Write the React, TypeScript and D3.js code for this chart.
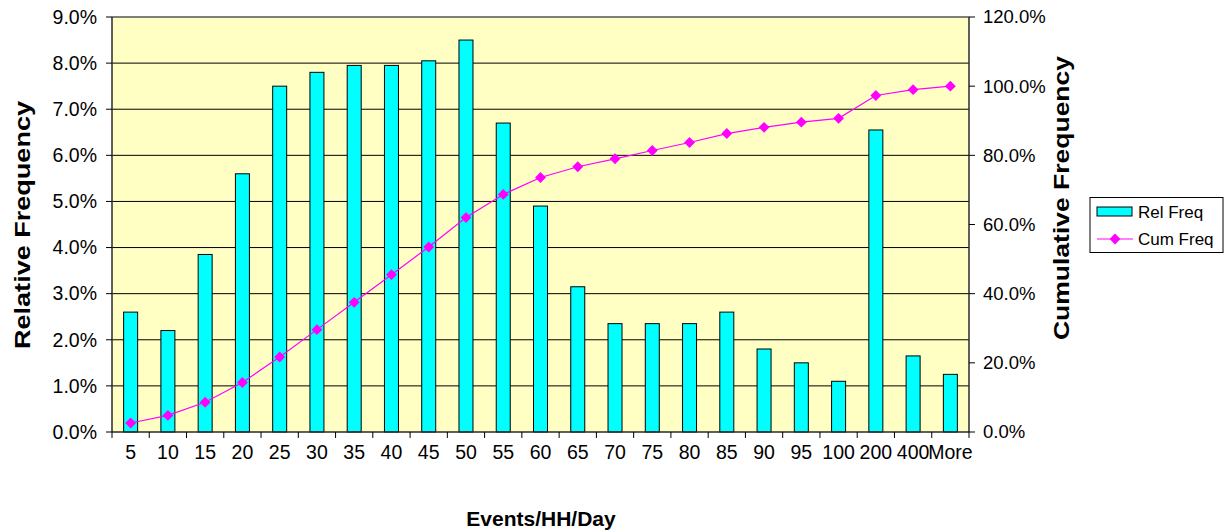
import React, { useEffect, useRef } from 'react';
import * as d3 from 'd3';

const categories = ['5', '10', '15', '20', '25', '30', '35', '40', '45', '50', '55', '60', '65', '70', '75', '80', '85', '90', '95', '100', '200', '400', 'More'];
const relFreq = [2.6, 2.2, 3.85, 5.6, 7.5, 7.8, 7.95, 7.95, 8.05, 8.5, 6.7, 4.9, 3.15, 2.35, 2.35, 2.35, 2.6, 1.8, 1.5, 1.1, 6.55, 1.65, 1.25];
const cumFreq = [2.6, 4.8, 8.6, 14.3, 21.7, 29.6, 37.5, 45.5, 53.5, 62.0, 68.7, 73.6, 76.7, 79.0, 81.4, 83.7, 86.3, 88.1, 89.6, 90.7, 97.3, 99.0, 100.0];
const leftTicks = [0, 1, 2, 3, 4, 5, 6, 7, 8, 9];
const rightTicks = [0, 20, 40, 60, 80, 100, 120];

const W = 1229;
const H = 531;
const plot = { left: 112, right: 969, top: 17, bottom: 432 };
const font = 'Liberation Sans, Arial, sans-serif';

const App: React.FC = () => {
  const svgRef = useRef<SVGSVGElement>(null);

  useEffect(() => {
    if (!svgRef.current) return;
    const svg = d3.select(svgRef.current);
    svg.selectAll('*').remove();

    const x = d3.scaleBand<string>().domain(categories).range([plot.left, plot.right]);
    const yL = d3.scaleLinear().domain([0, 9]).range([plot.bottom, plot.top]);
    const yR = d3.scaleLinear().domain([0, 120]).range([plot.bottom, plot.top]);
    const barW = 14;
    const cx = (i: number) => (x(categories[i]) as number) + x.bandwidth() / 2;

    // plot background
    svg.append('rect')
      .attr('x', plot.left).attr('y', plot.top)
      .attr('width', plot.right - plot.left).attr('height', plot.bottom - plot.top)
      .attr('fill', '#FFFFC4');

    // gridlines
    svg.append('g')
      .selectAll('line')
      .data(leftTicks.slice(1))
      .enter()
      .append('line')
      .attr('x1', plot.left).attr('x2', plot.right)
      .attr('y1', d => yL(d)).attr('y2', d => yL(d))
      .attr('stroke', '#000').attr('stroke-width', 1);

    // bars
    svg.append('g')
      .selectAll('rect')
      .data(relFreq)
      .enter()
      .append('rect')
      .attr('x', (d, i) => cx(i) - barW / 2)
      .attr('y', d => yL(d))
      .attr('width', barW)
      .attr('height', d => plot.bottom - yL(d))
      .attr('fill', '#00FFFF')
      .attr('stroke', '#000')
      .attr('stroke-width', 1);

    // plot border
    svg.append('rect')
      .attr('x', plot.left).attr('y', plot.top)
      .attr('width', plot.right - plot.left).attr('height', plot.bottom - plot.top)
      .attr('fill', 'none').attr('stroke', '#808080');

    // cumulative line
    const line = d3.line<number>()
      .x((d, i) => cx(i))
      .y(d => yR(d));
    svg.append('path')
      .attr('d', line(cumFreq))
      .attr('fill', 'none')
      .attr('stroke', '#FF00FF')
      .attr('stroke-width', 1.2);

    const diamond = d3.symbol().type(d3.symbolDiamond2).size(75);
    svg.append('g')
      .selectAll('path')
      .data(cumFreq)
      .enter()
      .append('path')
      .attr('d', diamond)
      .attr('transform', (d, i) => `translate(${cx(i)},${yR(d)})`)
      .attr('fill', '#FF00FF');

    // axes lines
    const axes = svg.append('g').attr('stroke', '#000').attr('stroke-width', 1);
    axes.append('line').attr('x1', plot.left).attr('x2', plot.left).attr('y1', plot.top).attr('y2', plot.bottom);
    axes.append('line').attr('x1', plot.right).attr('x2', plot.right).attr('y1', plot.top).attr('y2', plot.bottom);
    axes.append('line').attr('x1', plot.left).attr('x2', plot.right).attr('y1', plot.bottom).attr('y2', plot.bottom);

    leftTicks.forEach(t => {
      axes.append('line').attr('x1', plot.left - 6).attr('x2', plot.left).attr('y1', yL(t)).attr('y2', yL(t));
    });
    rightTicks.forEach(t => {
      axes.append('line').attr('x1', plot.right).attr('x2', plot.right + 6).attr('y1', yR(t)).attr('y2', yR(t));
    });
    d3.range(categories.length + 1).forEach(i => {
      const xx = plot.left + i * x.bandwidth();
      axes.append('line').attr('x1', xx).attr('x2', xx).attr('y1', plot.bottom).attr('y2', plot.bottom + 6);
    });

    // tick labels
    svg.append('g')
      .selectAll('text')
      .data(leftTicks)
      .enter()
      .append('text')
      .attr('x', 97).attr('y', d => yL(d))
      .attr('dy', '0.35em')
      .attr('text-anchor', 'end')
      .attr('font-family', font).attr('font-size', 19.5)
      .text(d => d.toFixed(1) + '%');

    svg.append('g')
      .selectAll('text')
      .data(rightTicks)
      .enter()
      .append('text')
      .attr('x', 983).attr('y', d => yR(d))
      .attr('dy', '0.35em')
      .attr('text-anchor', 'start')
      .attr('font-family', font).attr('font-size', 18.5)
      .text(d => d.toFixed(1) + '%');

    svg.append('g')
      .selectAll('text')
      .data(categories)
      .enter()
      .append('text')
      .attr('x', (d, i) => cx(i))
      .attr('y', 459)
      .attr('text-anchor', 'middle')
      .attr('font-family', font).attr('font-size', 19.5)
      .text(d => d);

    // axis titles
    svg.append('text')
      .attr('transform', 'translate(30,225) rotate(-90)')
      .attr('text-anchor', 'middle')
      .attr('font-family', font).attr('font-size', 22).attr('font-weight', 'bold')
      .attr('textLength', 248).attr('lengthAdjust', 'spacingAndGlyphs')
      .text('Relative Frequency');

    svg.append('text')
      .attr('transform', 'translate(1069,198) rotate(-90)')
      .attr('text-anchor', 'middle')
      .attr('font-family', font).attr('font-size', 22).attr('font-weight', 'bold')
      .attr('textLength', 284).attr('lengthAdjust', 'spacingAndGlyphs')
      .text('Cumulative Frequency');

    svg.append('text')
      .attr('x', 541).attr('y', 526)
      .attr('text-anchor', 'middle')
      .attr('font-family', font).attr('font-size', 21).attr('font-weight', 'bold')
      .text('Events/HH/Day');

    // legend
    const lg = svg.append('g');
    lg.append('rect')
      .attr('x', 1090).attr('y', 197.5).attr('width', 133).attr('height', 55)
      .attr('fill', '#fff').attr('stroke', '#000');
    lg.append('rect')
      .attr('x', 1097).attr('y', 207).attr('width', 35).attr('height', 9)
      .attr('fill', '#00FFFF').attr('stroke', '#000');
    lg.append('text')
      .attr('x', 1138).attr('y', 218)
      .attr('font-family', font).attr('font-size', 17)
      .text('Rel Freq');
    lg.append('line')
      .attr('x1', 1097).attr('x2', 1133).attr('y1', 239).attr('y2', 239)
      .attr('stroke', '#FF00FF').attr('stroke-width', 1.2);
    lg.append('path')
      .attr('d', diamond)
      .attr('transform', 'translate(1115,239)')
      .attr('fill', '#FF00FF');
    lg.append('text')
      .attr('x', 1138).attr('y', 245)
      .attr('font-family', font).attr('font-size', 17)
      .text('Cum Freq');
  }, []);

  return (
    <svg
      ref={svgRef}
      width={W}
      height={H}
      style={{ position: 'absolute', left: 0, top: 0, background: '#fff' }}
    />
  );
};

export default App;
